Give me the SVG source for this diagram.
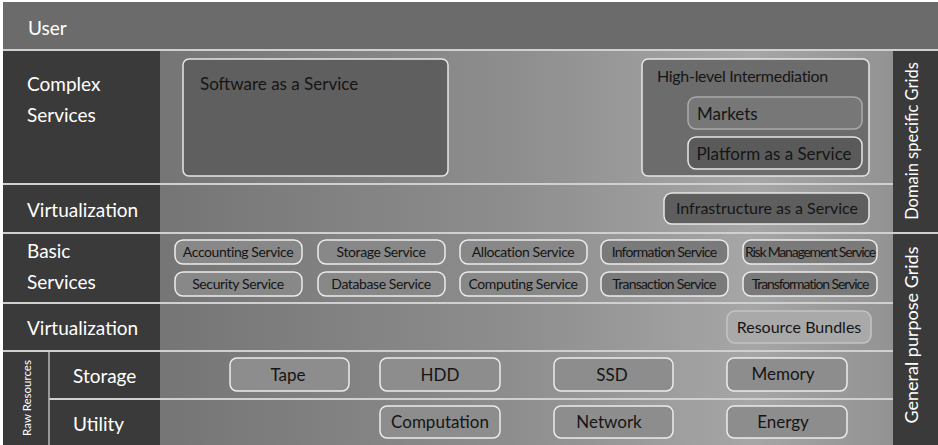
<svg xmlns="http://www.w3.org/2000/svg" width="938" height="445" viewBox="0 0 938 445">
<defs>
<linearGradient id="bg" x1="0" y1="0" x2="1" y2="0">
<stop offset="0" stop-color="#6a6a6a"/>
<stop offset="0.55" stop-color="#8e8e8e"/>
<stop offset="0.8" stop-color="#a6a6a6"/>
<stop offset="1" stop-color="#8c8c8c"/>
</linearGradient>
<style>
.lab{font-family:Lato,"Open Sans",sans-serif;fill:#ffffff;font-size:19px}
.dark{fill:#3a3a3a}
.sep{stroke:#d0d0d0;stroke-width:2}
.box{stroke:#e6e6e6;stroke-width:1.5}
.t{font-family:Lato,"Open Sans",sans-serif;fill:#151515;font-size:16px}
.tc{font-family:Lato,"Open Sans",sans-serif;fill:#151515;font-size:17px;text-anchor:middle}
.ts{font-family:Lato,"Open Sans",sans-serif;fill:#151515;font-size:14px;text-anchor:middle;letter-spacing:-0.4px}
.pill{fill:#888888;stroke:#ececec;stroke-width:1.5}
.res{fill:#8d8d8d;stroke:#ececec;stroke-width:1.5}
</style>
</defs>
<rect x="0" y="0" width="938" height="445" fill="#ffffff"/>
<rect x="3" y="2" width="935" height="443" fill="url(#bg)"/>
<g id="user"><rect x="3" y="2" width="935" height="48" fill="#6b6b6b"/><text class="lab" x="28" y="35">User</text></g>
<rect class="dark" x="3" y="50" width="157" height="395"/>
<rect class="dark" x="893" y="50" width="45" height="395"/>
<g id="separators">
<line class="sep" x1="3" y1="50" x2="938" y2="50"/>
<line class="sep" x1="3" y1="184" x2="893" y2="184"/>
<line class="sep" x1="3" y1="233" x2="938" y2="233"/>
<line class="sep" x1="3" y1="303" x2="893" y2="303"/>
<line class="sep" x1="3" y1="351" x2="893" y2="351"/>
<line class="sep" x1="49" y1="399" x2="893" y2="399"/>
<line stroke="#bbbbbb" stroke-width="1.5" x1="49" y1="352" x2="49" y2="445"/>
</g>
<g id="labels">
<text class="lab" x="27" y="91">Complex</text>
<text class="lab" x="27" y="122">Services</text>
<text class="lab" x="27" y="217">Virtualization</text>
<text class="lab" x="27" y="258">Basic</text>
<text class="lab" x="27" y="289">Services</text>
<text class="lab" x="27" y="335">Virtualization</text>
<text class="lab" x="73" y="383">Storage</text>
<text class="lab" x="73" y="431">Utility</text>
<text class="lab" style="font-size:11.5px" transform="translate(31,398) rotate(-90)" text-anchor="middle">Raw Resources</text>
<text class="lab" style="font-size:16.5px" transform="translate(918,141) rotate(-90)" text-anchor="middle">Domain specific Grids</text>
<text class="lab" style="font-size:18px" transform="translate(918,335) rotate(-90)" text-anchor="middle">General purpose Grids</text>
</g>
<g id="connectors"/>
<g id="saas"><rect class="box" x="183" y="59" width="265" height="117" rx="6" fill="#5f5f5f"/><text class="t" style="font-size:17px" x="200" y="90">Software as a Service</text></g>
<g id="intermediation"><rect class="box" x="642" y="59" width="227" height="117" rx="6" fill="#6c6c6c"/><text class="t" style="letter-spacing:-0.3px" x="657" y="82">High-level Intermediation</text></g>
<g id="markets"><rect x="688" y="97" width="174" height="32" rx="8" fill="#777777" stroke="#aaaaaa" stroke-width="1.5"/><text class="tc" style="text-anchor:start" x="697" y="120">Markets</text></g>
<g id="paas"><rect class="box" x="688" y="137" width="174" height="32" rx="8" fill="#5a5a5a"/><text class="tc" x="774" y="160">Platform as a Service</text></g>
<g id="iaas"><rect class="box" x="664" y="193" width="205" height="31" rx="8" fill="#5e5e5e"/><text class="t" x="767" y="214" text-anchor="middle">Infrastructure as a Service</text></g>
<g id="accounting"><rect class="pill" x="175" y="240" width="127" height="24" rx="8"/><text class="ts" x="238" y="257">Accounting Service</text></g>
<g id="storage-service"><rect class="pill" x="318" y="240" width="127" height="24" rx="8"/><text class="ts" x="381" y="257">Storage Service</text></g>
<g id="allocation"><rect class="pill" x="460" y="240" width="127" height="24" rx="8"/><text class="ts" x="523" y="257">Allocation Service</text></g>
<g id="information"><rect class="pill" x="601" y="240" width="127" height="24" rx="8" style="fill:#7a7a7a"/><text class="ts" x="664" y="257" style="letter-spacing:-0.8px">Information Service</text></g>
<g id="risk"><rect class="pill" x="743" y="240" width="134" height="24" rx="8" style="fill:#7a7a7a"/><text class="ts" x="810" y="257" style="letter-spacing:-1.2px">Risk Management Service</text></g>
<g id="security"><rect class="pill" x="175" y="272" width="127" height="24" rx="8"/><text class="ts" x="238" y="289">Security Service</text></g>
<g id="database"><rect class="pill" x="318" y="272" width="127" height="24" rx="8"/><text class="ts" x="381" y="289">Database Service</text></g>
<g id="computing"><rect class="pill" x="460" y="272" width="127" height="24" rx="8"/><text class="ts" x="523" y="289">Computing Service</text></g>
<g id="transaction"><rect class="pill" x="601" y="272" width="127" height="24" rx="8" style="fill:#7a7a7a"/><text class="ts" x="664" y="289" style="letter-spacing:-0.8px">Transaction Service</text></g>
<g id="transformation"><rect class="pill" x="743" y="272" width="134" height="24" rx="8" style="fill:#7a7a7a"/><text class="ts" x="810" y="289" style="letter-spacing:-1.1px">Transformation Service</text></g>
<g id="bundles"><rect x="727" y="311" width="144" height="32" rx="8" fill="#a9a9a9" stroke="#c4c4c4" stroke-width="1.5"/><text class="tc" style="font-size:16px" x="799" y="333">Resource Bundles</text></g>
<g id="tape"><rect class="res" x="230" y="358" width="119" height="33" rx="7"/><text class="tc" x="288" y="381">Tape</text></g>
<g id="hdd"><rect class="res" x="380" y="358" width="120" height="33" rx="7"/><text class="tc" x="440" y="381">HDD</text></g>
<g id="ssd"><rect class="res" x="554" y="358" width="119" height="33" rx="7"/><text class="tc" x="612" y="381">SSD</text></g>
<g id="memory"><rect class="res" x="727" y="358" width="120" height="33" rx="7"/><text class="tc" x="783" y="380">Memory</text></g>
<g id="computation"><rect class="res" x="380" y="406" width="120" height="32" rx="7"/><text class="tc" x="440" y="428">Computation</text></g>
<g id="network"><rect class="res" x="554" y="406" width="119" height="32" rx="7"/><text class="tc" x="609" y="428">Network</text></g>
<g id="energy"><rect class="res" x="727" y="406" width="120" height="32" rx="7"/><text class="tc" x="783" y="428">Energy</text></g>
</svg>
